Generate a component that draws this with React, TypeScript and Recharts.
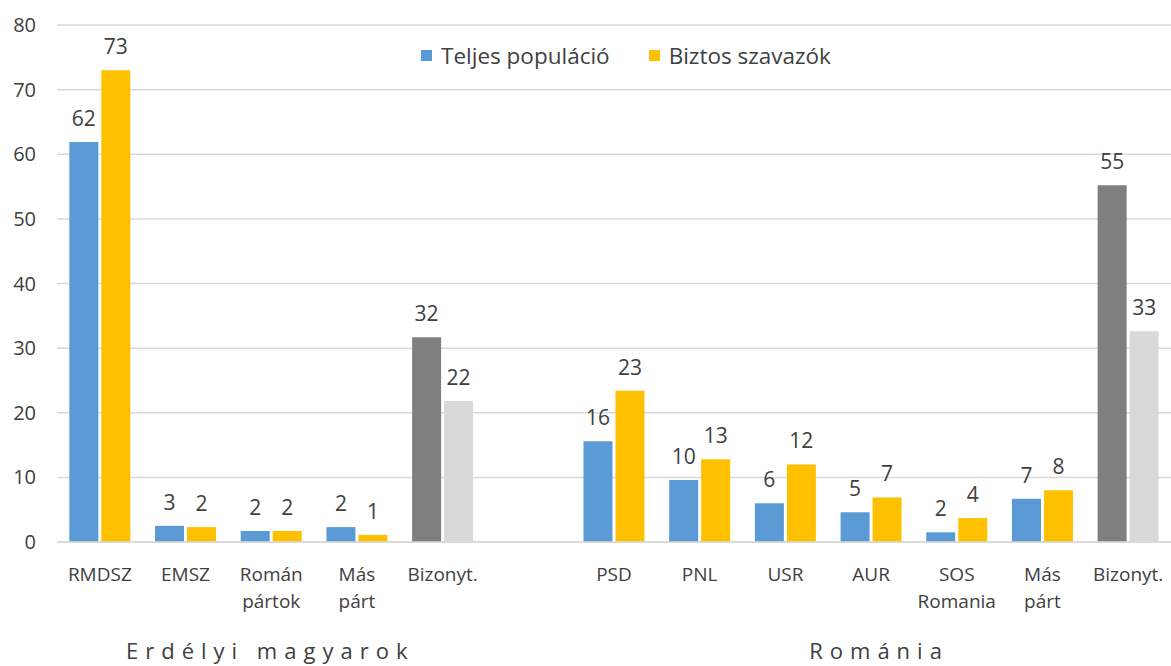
import React from 'react';
import { BarChart, Bar, XAxis, YAxis, CartesianGrid, Cell, LabelList } from 'recharts';

const categories = ['RMDSZ', 'EMSZ', 'Román\npártok', 'Más\npárt', 'Bizonyt.', '', 'PSD', 'PNL', 'USR', 'AUR', 'SOS\nRomania', 'Más\npárt', 'Bizonyt.'];
const teljes: (number | null)[] = [61.9, 2.5, 1.7, 2.3, 31.7, null, 15.6, 9.6, 6.0, 4.6, 1.5, 6.7, 55.2];
const biztos: (number | null)[] = [73.0, 2.3, 1.7, 1.1, 21.8, null, 23.4, 12.8, 12.0, 6.9, 3.7, 8.0, 32.6];
const yTicks = [0, 10, 20, 30, 40, 50, 60, 70, 80];
const seriesNames = ['Teljes populáció', 'Biztos szavazók'];
const groupLabels = [
  { label: 'Erdélyi magyarok', index: 2 },
  { label: 'Románia', index: 9 },
];
const groupDx = [-1, 8];
const undecidedLabel = 'Bizonyt.';

const BLUE = '#5B9BD5';
const YELLOW = '#FFC000';
const DGRAY = '#7F7F7F';
const LGRAY = '#D9D9D9';
const GRID = '#D9D9D9';
const TEXT = '#404040';
const FONT = "'Open Sans', 'Noto Sans', sans-serif";

const data = categories.map((c, i) => ({ key: 'c' + i, name: c, teljes: teljes[i], biztos: biztos[i] }));

const fmt = (v: any) => (v == null ? '' : String(Math.round(Number(v))));

const CatTick = (props: any) => {
  const { x, y, payload } = props;
  const idx = payload.index ?? props.index;
  const name = categories[idx] || '';
  const lines = name.split('\n');
  const gi = groupLabels.findIndex((g) => g.index === idx);
  return (
    <g>
      <text x={x} y={y} textAnchor="middle" fill={TEXT} fontSize={19} fontFamily={FONT}>
        {lines.map((l, i) => (
          <tspan key={i} x={x} dy={i === 0 ? 31 : 27}>{l}</tspan>
        ))}
      </text>
      {gi >= 0 && (
        <text x={x + groupDx[gi]} y={y + 109} textAnchor="middle" fill={TEXT} fontSize={22} fontFamily={FONT} letterSpacing={7}>
          {groupLabels[gi].label}
        </text>
      )}
    </g>
  );
};

export default function App() {
  return (
    <div style={{ position: 'absolute', left: 0, top: 0, width: 1171, height: 666, background: '#fff', fontFamily: FONT }}>
      <BarChart
        width={1171}
        height={666}
        data={data}
        margin={{ top: 25, right: 0, left: 0, bottom: 0 }}
        barCategoryGap="14.4%"
        barGap={3}
      >
        <CartesianGrid vertical={false} stroke={GRID} strokeWidth={1.5} />
        <XAxis
          dataKey="key"
          height={124}
          axisLine={{ stroke: GRID, strokeWidth: 1.5 }}
          tickLine={false}
          interval={0}
          tick={<CatTick />}
        />
        <YAxis
          width={57}
          domain={[0, 80]}
          ticks={yTicks}
          axisLine={false}
          tickLine={false}
          tickMargin={15}
          tick={{ fill: TEXT, fontSize: 20, fontFamily: FONT }}
        />
        <Bar dataKey="teljes" name={seriesNames[0]} fill={BLUE} isAnimationActive={false}>
          {data.map((d, i) => (
            <Cell key={i} fill={d.name === undecidedLabel ? DGRAY : BLUE} />
          ))}
          <LabelList dataKey="teljes" position="top" offset={16} formatter={fmt} fill={TEXT} fontSize={21} fontFamily={FONT} />
        </Bar>
        <Bar dataKey="biztos" name={seriesNames[1]} fill={YELLOW} isAnimationActive={false}>
          {data.map((d, i) => (
            <Cell key={i} fill={d.name === undecidedLabel ? LGRAY : YELLOW} />
          ))}
          <LabelList dataKey="biztos" position="top" offset={16} formatter={fmt} fill={TEXT} fontSize={21} fontFamily={FONT} />
        </Bar>
      </BarChart>
      <div style={{ position: 'absolute', left: 421, top: 40, display: 'flex', alignItems: 'center', fontSize: 22.5, color: TEXT, fontFamily: FONT, whiteSpace: 'nowrap' }}>
        <span style={{ display: 'inline-block', width: 11, height: 11, background: BLUE, marginRight: 9 }} />
        <span style={{ marginRight: 39 }}>{seriesNames[0]}</span>
        <span style={{ display: 'inline-block', width: 11, height: 11, background: YELLOW, marginRight: 9 }} />
        <span>{seriesNames[1]}</span>
      </div>
    </div>
  );
}
